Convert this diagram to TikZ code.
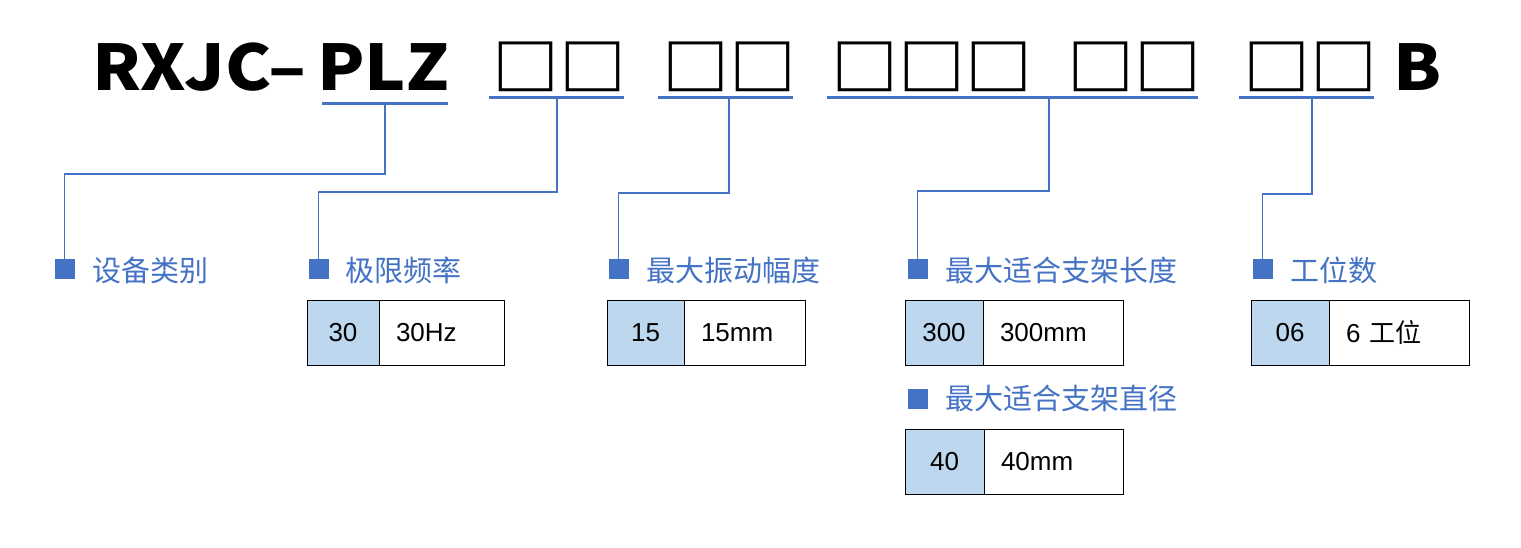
\documentclass[tikz,border=0pt]{standalone}
\usepackage{fontspec}
\setmainfont{Liberation Sans}
\newfontfamily\cjk{Noto Sans CJK SC}
\usetikzlibrary{calc}
\definecolor{ublue}{HTML}{4472C4}
\definecolor{cellblue}{HTML}{BDD7EE}
\newcommand{\wide}[1]{\scalebox{1.1}[1]{#1}}
\newcommand{\boxrow}[1]{\scalebox{1}[0.93]{#1}}
\begin{document}
\begin{tikzpicture}[x=1pt,y=-1pt,
  ttl/.style={inner sep=0pt, anchor=base west, font=\cjk\bfseries\fontsize{63}{66}\selectfont},
  boxes/.style={inner sep=0pt, anchor=base west, font=\cjk\bfseries\fontsize{67}{70}\selectfont},
  uline/.style={draw=ublue, line width=3pt},
  conn/.style={draw=ublue, line width=1.1pt},
  sq/.style={fill=ublue, minimum size=20pt, inner sep=0pt},
  lbl/.style={inner sep=0pt, anchor=west, text=ublue, font=\cjk\fontsize{29}{32}\selectfont},
  codecell/.style={draw=black, fill=cellblue, line width=1pt, minimum height=65pt, inner sep=0pt, font=\fontsize{26}{28}\selectfont},
  valcell/.style={draw=black, line width=1pt, minimum height=65pt, inner ysep=0pt, inner xsep=17pt, align=left, font=\fontsize{26}{28}\selectfont},
]
\useasboundingbox (0,0) rectangle (1521,548);
\fill[white] (0,0) rectangle (1521,548);
% title
\node[ttl] (t1) at (92,91) {\wide{RXJC–}};
\node[ttl] (t2) at (317,91) {\wide{PLZ}};
\node[boxes] (b1) at (492,90.5) {\boxrow{□□}};
\node[boxes] (b2) at (662,90.5) {\boxrow{□□}};
\node[boxes] (b3) at (831,90.5) {\boxrow{□□□}};
\node[boxes] (b4) at (1067,90.5) {\boxrow{□□}};
\node[boxes] (b5) at (1243,90.5) {\boxrow{□□}};
\node[ttl] (t3) at (1393,91) {\wide{B}};
% underlines
\draw[uline] (322,104) -- (448,104);
\draw[uline] (489,98) -- (624,98);
\draw[uline] (658,98) -- (793,98);
\draw[uline] (827,98) -- (1198,98);
\draw[uline] (1239,98) -- (1374,98);
\coordinate (u1) at (385,104);
\coordinate (u2) at (557,98);
\coordinate (u3) at (729,98);
\coordinate (u4) at (1049,98);
\coordinate (u5) at (1312,98);
% squares and labels
\node[sq] (s1) at (64.5,269) {};
\node[sq] (s2) at (318.5,269) {};
\node[sq] (s3) at (618.5,269) {};
\node[sq] (s4) at (917.5,269) {};
\node[sq] (s5) at (1262.5,269) {};
\node[sq] (s6) at (917.5,398.5) {};
\node[lbl] (l1) at (92,270) {设备类别};
\node[lbl] (l2) at (345,270) {极限频率};
\node[lbl] (l3) at (646,270) {最大振动幅度};
\node[lbl] (l4) at (945,270) {最大适合支架长度};
\node[lbl] (l5) at (1290,270) {工位数};
\node[lbl] (l6) at (945,398.5) {最大适合支架直径};
% connectors
\draw[conn] (u1) -- ++(0,70) -| (s1.north);
\draw[conn] (u2) -- ++(0,94) -| (s2.north);
\draw[conn] (u3) -- ++(0,95) -| (s3.north);
\draw[conn] (u4) -- ++(0,93) -| (s4.north);
\draw[conn] (u5) -- ++(0,96) -| (s5.north);
% tables
\node[codecell, minimum width=72pt] (c1) at (343,332.5) {30};
\node[valcell, text width=91pt] (v1) at (441.5,332.5) {30Hz};
\node[codecell, minimum width=77pt] (c2) at (645.5,332.5) {15};
\node[valcell, text width=87pt] (v2) at (744.5,332.5) {15mm};
\node[codecell, minimum width=78pt] (c3) at (944,332.5) {300};
\node[valcell, text width=106pt] (v3) at (1053,332.5) {300mm};
\node[codecell, minimum width=79pt] (c4) at (944.5,461.5) {40};
\node[valcell, text width=105pt] (v4) at (1053.5,461.5) {40mm};
\node[codecell, minimum width=78pt] (c5) at (1290,332.5) {06};
\node[valcell, text width=106pt] (v5) at (1399,332.5) {6 {\cjk 工位}};
\end{tikzpicture}
\end{document}
